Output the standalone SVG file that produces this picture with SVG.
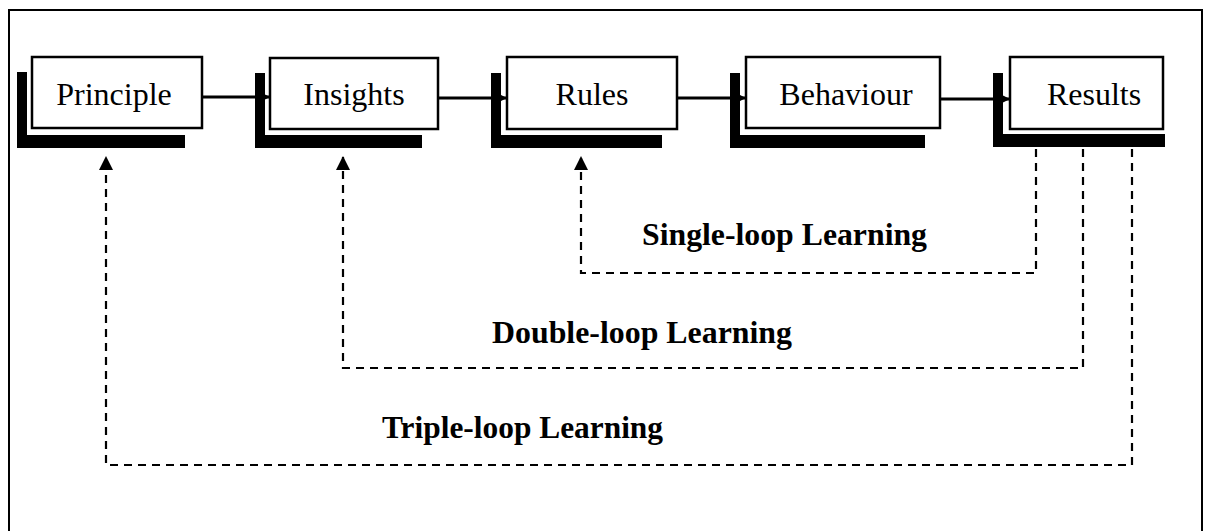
<svg xmlns="http://www.w3.org/2000/svg" width="1208" height="531" viewBox="0 0 1208 531">
<defs>
<style>
.shadow{fill:#000}
.halo{fill:#fff}
.box{fill:#fff;stroke:#000;stroke-width:2.5}
.lbl{font-family:"Liberation Serif","Times New Roman",serif;font-size:32px;fill:#000;text-anchor:middle}
.loop{font-family:"Liberation Serif","Times New Roman",serif;font-size:31px;font-weight:bold;fill:#000}
.solid{fill:none;stroke:#000;stroke-width:3}
.dash{fill:none;stroke:#000;stroke-width:2.2;stroke-dasharray:8 6}
</style>
<marker id="ah" viewBox="0 0 12 12" refX="12" refY="6" markerWidth="12" markerHeight="12" markerUnits="userSpaceOnUse" orient="auto">
<path d="M0,0 L12,6 L0,12 Z" fill="#000"/>
</marker>
<marker id="au" viewBox="0 0 14 14" refX="14" refY="7" markerWidth="14" markerHeight="14" markerUnits="userSpaceOnUse" orient="auto">
<path d="M0,0 L14,7 L0,14 Z" fill="#000"/>
</marker>
</defs>
<rect width="1208" height="531" fill="#fff"/>
<path d="M9,531 V10 H1202 V531" fill="none" stroke="#000" stroke-width="2"/>

<g id="principle">
<rect class="shadow" x="17" y="72" width="168" height="76"/>
<rect class="halo" x="27" y="62" width="180" height="73"/>
<rect class="box" x="32" y="57" width="170" height="71"/>
<text class="lbl" x="114" y="105">Principle</text>
</g>
<g id="insights">
<rect class="shadow" x="255" y="73" width="167" height="75"/>
<rect class="halo" x="265" y="63" width="178" height="72"/>
<rect class="box" x="270" y="58" width="168" height="71"/>
<text class="lbl" x="354" y="105">Insights</text>
</g>
<g id="rules">
<rect class="shadow" x="491" y="73" width="171" height="75"/>
<rect class="halo" x="501" y="62" width="181" height="73"/>
<rect class="box" x="507" y="57" width="170" height="72"/>
<text class="lbl" x="592" y="105">Rules</text>
</g>
<g id="behaviour">
<rect class="shadow" x="730" y="73" width="195" height="75"/>
<rect class="halo" x="740" y="62" width="205" height="73"/>
<rect class="box" x="746" y="57" width="194" height="71"/>
<text class="lbl" x="846" y="105">Behaviour</text>
</g>
<g id="results">
<rect class="shadow" x="993" y="73" width="172" height="74"/>
<rect class="halo" x="1003" y="62" width="165" height="72"/>
<rect class="box" x="1010" y="57" width="153" height="72"/>
<text class="lbl" x="1094" y="105">Results</text>
</g>

<g id="connectors">
<line class="solid" x1="203" y1="97" x2="270" y2="97" marker-end="url(#ah)"/>
<line class="solid" x1="439" y1="98" x2="507" y2="98" marker-end="url(#ah)"/>
<line class="solid" x1="678" y1="98" x2="746" y2="98" marker-end="url(#ah)"/>
<line class="solid" x1="941" y1="99" x2="1010" y2="99" marker-end="url(#ah)"/>
<path class="dash" d="M1036,149 V273 H581 V156" marker-end="url(#au)"/>
<path class="dash" d="M1083,149 V368 H343 V156" marker-end="url(#au)"/>
<path class="dash" d="M1132,149 V465 H106 V156" marker-end="url(#au)"/>
</g>

<g id="labels">
<text class="loop" x="642" y="245" textLength="285" lengthAdjust="spacingAndGlyphs">Single-loop Learning</text>
<text class="loop" x="492" y="343" textLength="300" lengthAdjust="spacingAndGlyphs">Double-loop Learning</text>
<text class="loop" x="382" y="438" textLength="281" lengthAdjust="spacingAndGlyphs">Triple-loop Learning</text>
</g>
</svg>
